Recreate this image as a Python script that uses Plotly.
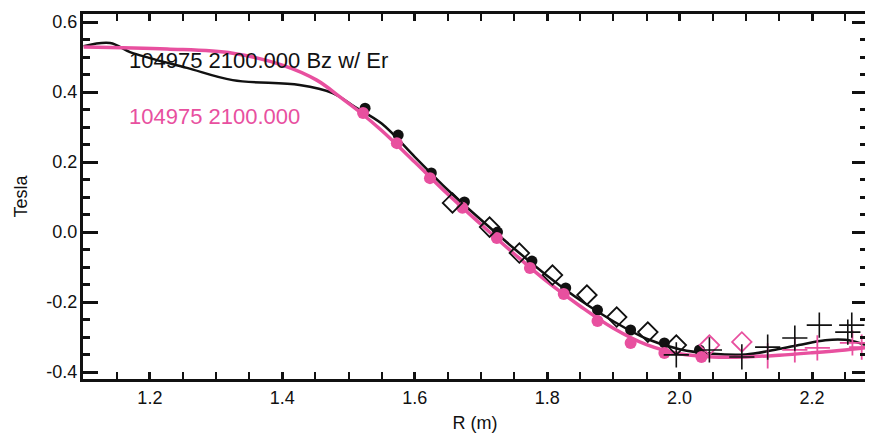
import plotly.graph_objects as go

# ---- data ----
# continuous profiles
R_LINE_BLACK = [1.10, 1.14, 1.17, 1.20, 1.256, 1.325, 1.426, 1.476, 1.51, 1.55, 1.60, 1.65, 1.70,
                1.75, 1.80, 1.85, 1.90, 1.95, 2.00, 2.05, 2.10, 2.14, 2.18, 2.22, 2.25, 2.28]
B_LINE_BLACK = [0.531, 0.54, 0.514, 0.497, 0.469, 0.434, 0.42, 0.397, 0.357, 0.31, 0.215, 0.12, 0.035,
                -0.047, -0.125, -0.195, -0.255, -0.305, -0.335, -0.348, -0.35, -0.338, -0.323, -0.309, -0.308, -0.322]

R_LINE_PINK = [1.10, 1.226, 1.325, 1.40, 1.452, 1.487, 1.517, 1.55, 1.60, 1.65, 1.70, 1.75, 1.80,
               1.85, 1.90, 1.95, 2.00, 2.05, 2.10, 2.15, 2.20, 2.25, 2.28]
B_LINE_PINK = [0.529, 0.523, 0.511, 0.477, 0.434, 0.386, 0.343, 0.29, 0.20, 0.108, 0.022, -0.062, -0.142,
               -0.212, -0.275, -0.322, -0.348, -0.357, -0.357, -0.352, -0.345, -0.337, -0.331]

# measured points
R_CIRC_BLACK = [1.525, 1.575, 1.625, 1.675, 1.725, 1.777, 1.828, 1.876, 1.926, 1.977, 2.030]
B_CIRC_BLACK = [0.354, 0.277, 0.169, 0.086, 0.000, -0.083, -0.160, -0.223, -0.280, -0.317, -0.337]

R_CIRC_PINK = [1.522, 1.573, 1.623, 1.672, 1.724, 1.774, 1.825, 1.876, 1.926, 1.977, 2.033]
B_CIRC_PINK = [0.340, 0.254, 0.154, 0.069, -0.017, -0.103, -0.177, -0.254, -0.317, -0.346, -0.357]

R_DIAM_BLACK = [1.657, 1.713, 1.758, 1.808, 1.860, 1.905, 1.952, 1.995]
B_DIAM_BLACK = [0.083, 0.014, -0.060, -0.123, -0.180, -0.243, -0.286, -0.323]

R_DIAM_PINK = [2.045, 2.094]
B_DIAM_PINK = [-0.323, -0.314]

R_PLUS_BLACK = [1.995, 2.045, 2.094, 2.133, 2.174, 2.211, 2.254, 2.260]
B_PLUS_BLACK = [-0.351, -0.337, -0.357, -0.329, -0.303, -0.266, -0.286, -0.266]

R_PLUS_PINK = [2.133, 2.174, 2.208, 2.261, 2.275]
B_PLUS_PINK = [-0.354, -0.337, -0.331, -0.317, -0.329]

X_TICKS = [1.2, 1.4, 1.6, 1.8, 2.0, 2.2]
X_TICK_LABELS = ["1.2", "1.4", "1.6", "1.8", "2.0", "2.2"]
Y_TICKS = [0.6, 0.4, 0.2, 0.0, -0.2, -0.4]
Y_TICK_LABELS = ["0.6", "0.4", "0.2", "0.0", "-0.2", "-0.4"]

LABEL_BLACK = "104975 2100.000 Bz w/ Er"
LABEL_PINK = "104975 2100.000"

BLACK = "#111111"
PINK = "#E8509F"
FONT = "Liberation Sans, Arial, sans-serif"
Y_RANGE = [-0.42, 0.623]
X_RANGE = [1.099, 2.283]

fig = go.Figure()
fig.add_trace(go.Scatter(x=R_LINE_BLACK, y=B_LINE_BLACK, mode="lines",
                         line=dict(color=BLACK, width=2.5, shape="spline", smoothing=1.0)))
fig.add_trace(go.Scatter(x=R_CIRC_BLACK, y=B_CIRC_BLACK, mode="markers",
                         marker=dict(symbol="circle", size=11, color=BLACK)))
fig.add_trace(go.Scatter(x=R_LINE_PINK, y=B_LINE_PINK, mode="lines",
                         line=dict(color=PINK, width=3.5, shape="spline", smoothing=1.0)))
fig.add_trace(go.Scatter(x=R_CIRC_PINK, y=B_CIRC_PINK, mode="markers",
                         marker=dict(symbol="circle", size=12, color=PINK)))
fig.add_trace(go.Scatter(x=R_DIAM_BLACK, y=B_DIAM_BLACK, mode="markers",
                         marker=dict(symbol="diamond-open", size=15, color=BLACK, line=dict(width=1.8))))
fig.add_trace(go.Scatter(x=R_DIAM_PINK, y=B_DIAM_PINK, mode="markers",
                         marker=dict(symbol="diamond-open", size=15, color=PINK, line=dict(width=1.8))))
fig.add_trace(go.Scatter(x=R_PLUS_PINK, y=B_PLUS_PINK, mode="markers",
                         marker=dict(symbol="cross-thin-open", size=18, color=PINK, line=dict(width=1.8, color=PINK))))
fig.add_trace(go.Scatter(x=R_PLUS_BLACK, y=B_PLUS_BLACK, mode="markers", yaxis="y2",
                         marker=dict(symbol="cross-thin-open", size=18, color=BLACK, line=dict(width=1.6, color=BLACK))))

fig.add_annotation(x=1.165, y=0.489, xref="x", yref="y", text=LABEL_BLACK, showarrow=False,
                   xanchor="left", yanchor="middle", font=dict(family=FONT, size=22, color=BLACK))
fig.add_annotation(x=1.165, y=0.331, xref="x", yref="y", text=LABEL_PINK, showarrow=False,
                   xanchor="left", yanchor="middle", font=dict(family=FONT, size=22, color=PINK))

tickfont = dict(family=FONT, size=18, color=BLACK)

fig.update_layout(
    xaxis=dict(range=X_RANGE, tickvals=X_TICKS, ticktext=X_TICK_LABELS,
               showline=True, linecolor=BLACK, linewidth=3, mirror="allticks",
               ticks="inside", ticklen=7, tickcolor=BLACK, tickwidth=2.5,
               minor=dict(dtick=0.05, tick0=1.2, ticks="inside", ticklen=4, tickwidth=2, tickcolor=BLACK),
               showgrid=False, zeroline=False, automargin=False, tickfont=tickfont,
               title=dict(text="R (m)", font=dict(family=FONT, size=18, color=BLACK), standoff=10)),
    # labelled axis: no line, invisible 1px outside ticks give a small fixed gap
    yaxis=dict(range=Y_RANGE, tickvals=Y_TICKS, ticktext=Y_TICK_LABELS,
               anchor="x", side="left",
               showline=False, mirror=False, ticks="outside", ticklen=1,
               tickcolor="rgba(0,0,0,0)",
               showgrid=False, zeroline=False, automargin=False, tickfont=tickfont,
               title=dict(text="Tesla", font=dict(family=FONT, size=18, color=BLACK), standoff=14)),
    # frame + tick-mark axis on top of it, same scale
    yaxis2=dict(range=Y_RANGE, overlaying="y", side="left", anchor="x", tickvals=Y_TICKS,
                showticklabels=False, showline=True, linecolor=BLACK, linewidth=3, mirror="allticks",
                ticks="inside", ticklen=15, tickcolor=BLACK, tickwidth=2.5,
                minor=dict(dtick=0.05, tick0=0.0, ticks="inside", ticklen=7, tickwidth=2.5, tickcolor=BLACK),
                showgrid=False, zeroline=False, automargin=False),
)

# the page body adds an 8px margin, so the figure is 8px smaller and shifted
fig.update_layout(width=865, height=426, margin=dict(l=75, r=6, t=6, b=55),
                  paper_bgcolor="white", plot_bgcolor="white", showlegend=False,
                  font=dict(family=FONT))

fig.write_html("out.html")
